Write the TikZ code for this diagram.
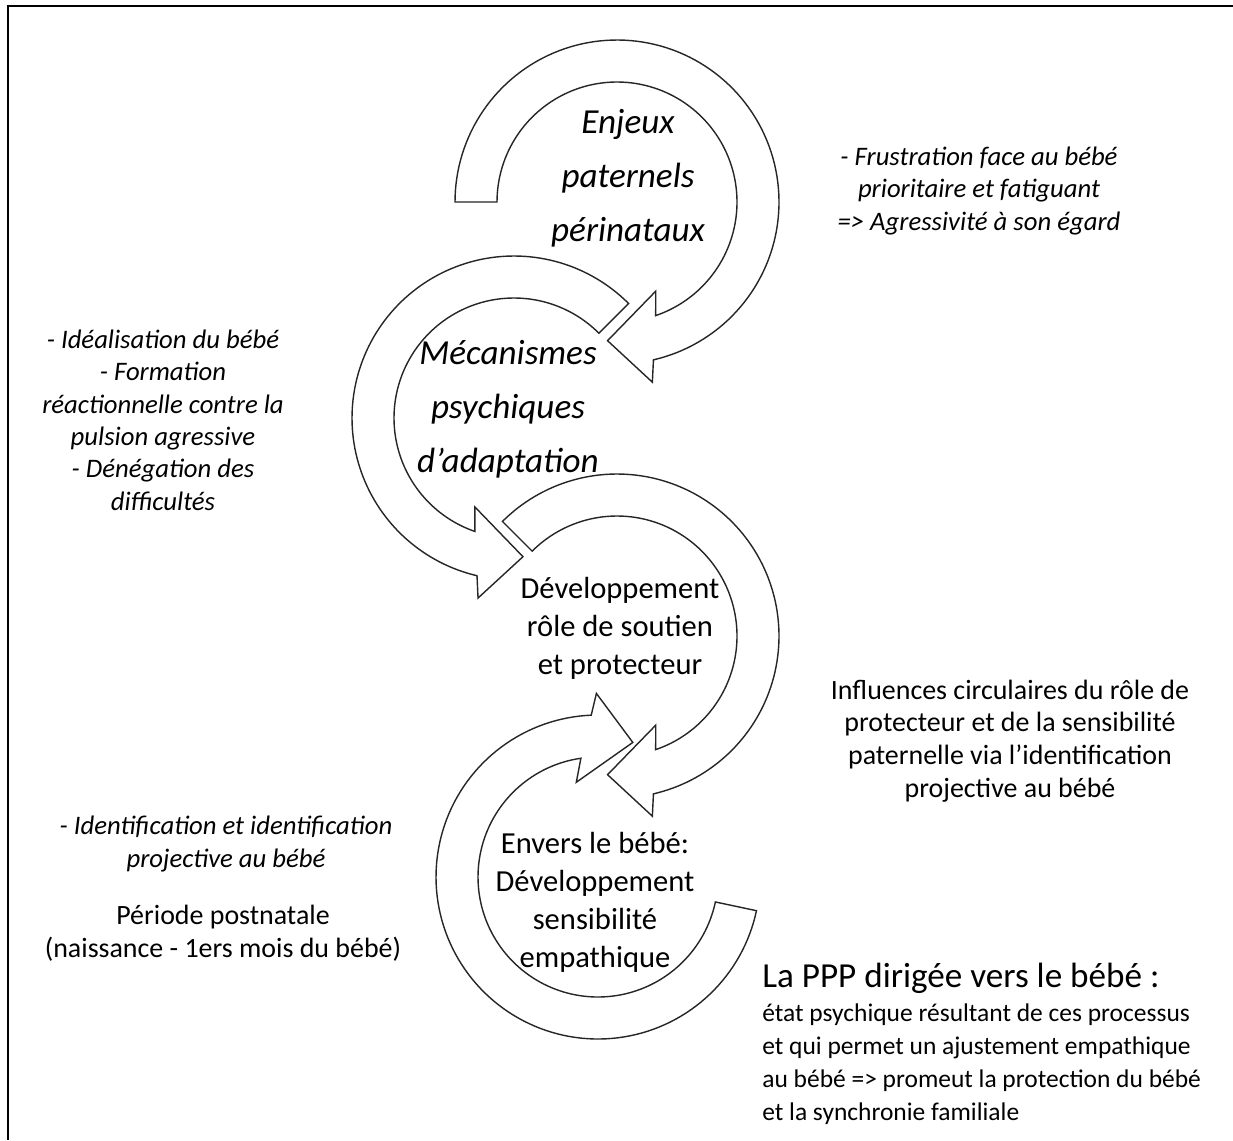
\documentclass[tikz,border=0pt]{standalone}
\usepackage{fontspec}
\setmainfont{Carlito}
% Curved band arrow: #1,#2 centre; #3 tail angle; #4 tip angle; #5 sense (+1 or -1)
\newcommand\ringarrow[5]{%
  \begin{scope}[shift={(#1,#2)}]
    \draw[ringband]
      plot[domain=#3:{#4-(#5)*16.9}, samples=120] (\x:162)
      -- ({#4-(#5)*15.0}:183.6)
      -- (#4:139)
      -- ({#4-(#5)*27.4}:97.2)
      -- plot[domain={#4-(#5)*22.7}:#3, samples=120] (\x:120)
      -- cycle;
  \end{scope}}
\begin{document}
\begin{tikzpicture}[x=0.02cm, y=-0.02cm,
  ringband/.style={draw=black!85, line width=0.8pt, fill=white, line join=miter},
  frameline/.style={line width=1.4pt, line join=miter},
  bigital/.style={font=\fontsize{20}{30.6}\selectfont\itshape, align=center, inner sep=0pt},
  midtext/.style={font=\fontsize{17.4}{21.6}\selectfont, align=center, inner sep=0pt},
  sideital/.style={font=\fontsize{15.2}{18.4}\selectfont\itshape, align=center, inner sep=0pt},
  sidetext/.style={font=\fontsize{15.9}{18.6}\selectfont, align=center, inner sep=0pt},
  heading/.style={font=\fontsize{20}{24}\selectfont, inner sep=0pt, anchor=west},
  bodyleft/.style={font=\fontsize{14.5}{18.9}\selectfont, align=left, inner sep=0pt, anchor=north west}]
\useasboundingbox (0,0) rectangle (1233,1140);

% frame (top and left edges)
\draw[frameline] (8,1140) -- (8,6) -- (1233,6);

% the four curved arrows
\ringarrow{617}{202}{180}{453.9}{1}
\ringarrow{514}{418}{-45}{-273.7}{-1}
\ringarrow{617}{636}{225}{453.9}{1}
\ringarrow{598}{877}{12}{284.5}{1}

% texts inside the arrows
\node[bigital] (enjeux) at (628,178) {Enjeux\\paternels\\périnataux};
\node[bigital] (meca) at (508,409) {Mécanismes\\psychiques\\d’adaptation};
\node[midtext] (role) at (620,628) {Développement\\rôle de soutien\\et protecteur};
\node[midtext] (empathie) at (595,902) {Envers le bébé:\\Développement\\sensibilité\\empathique};

% side comments
\node[sideital] (frustr) at (979,191) {- Frustration face au bébé\\prioritaire et fatiguant\\=> Agressivité à son égard};
\node[sideital] (defenses) at (163,420) {- Idéalisation du bébé\\- Formation\\réactionnelle contre la\\pulsion agressive\\- Dénégation des\\difficultés};
\node[sidetext] (influences) at (1010,741) {Influences circulaires du rôle de\\protecteur et de la sensibilité\\paternelle via l’identification\\projective au bébé};
\node[sideital] (identif) at (226,844) {- Identification et identification\\projective au bébé};
\node[sidetext] (periode) at (223,933) {Période postnatale\\(naissance - 1ers mois du bébé)};

% conclusion
\node[heading] (ppp) at (762,978) {La PPP dirigée vers le bébé :};
\node[bodyleft] (etat) at (762,1003) {état psychique résultant de ces processus\\et qui permet un ajustement empathique\\au bébé => promeut la protection du bébé\\et la synchronie familiale};
\end{tikzpicture}
\end{document}
